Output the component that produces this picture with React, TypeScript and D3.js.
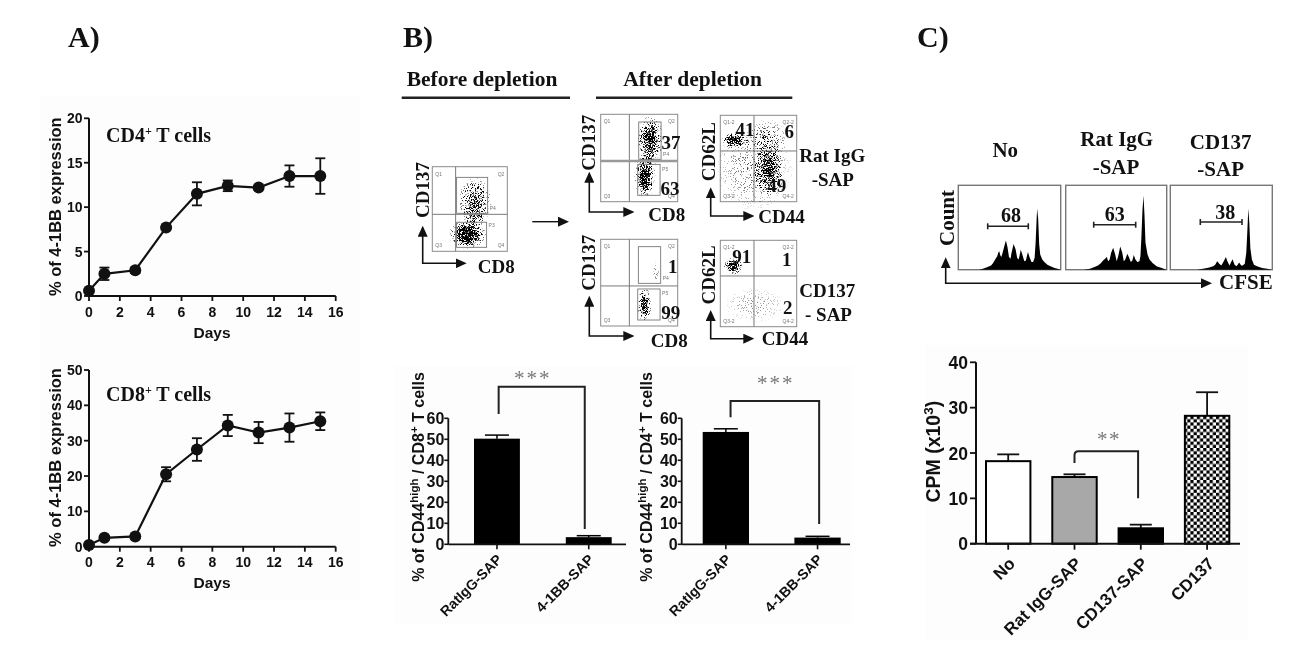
import React from "react";
import * as d3 from "d3";

// ---------- Panel A data ----------
const days = [0, 1, 3, 5, 7, 9, 11, 13, 15];
const cd4Mean = [0.6, 2.5, 2.9, 7.7, 11.5, 12.4, 12.2, 13.5, 13.5];
const cd4Err = [0.2, 0.7, 0.3, 0.2, 1.3, 0.6, 0.2, 1.2, 2.0];
const cd8Mean = [0.5, 2.5, 2.9, 20.5, 27.5, 34.3, 32.3, 33.7, 35.5];
const cd8Err = [0.3, 0.5, 0.5, 2.0, 3.2, 3.0, 3.0, 4.0, 2.5];
const dayTicks = [0, 2, 4, 6, 8, 10, 12, 14, 16];
const cd4Ticks = [0, 5, 10, 15, 20];
const cd8Ticks = [0, 10, 20, 30, 40, 50];

// ---------- Panel B bars ----------
const depletionCats = ["RatIgG-SAP", "4-1BB-SAP"];
const cd8HighMean = [50.3, 3.4];
const cd8HighTop = [52, 4.1];
const cd4HighMean = [53.5, 3.2];
const cd4HighTop = [55, 3.8];
const pctTicks = [0, 10, 20, 30, 40, 50, 60];

// ---------- Panel C bars ----------
const cpmCats = ["No", "Rat IgG-SAP", "CD137-SAP", "CD137"];
const cpmMean = [18.2, 14.7, 3.4, 28.2];
const cpmTop = [19.7, 15.3, 4.2, 33.4];
const cpmTicks = [0, 10, 20, 30, 40];

// ---------- CFSE histograms (percent of frame width, percent of frame height) ----------
const histNoX = [20, 24, 28, 32, 34, 36, 38, 39, 40, 41, 42, 43, 45, 46.5, 48, 49.5, 51, 52, 54, 56, 57.5, 59, 61, 62.5, 64.5, 66, 68, 69.5, 71.5, 73, 74.5, 75.5, 76.5, 77, 78, 79, 80, 82, 84, 87, 90, 94, 97, 100];
const histNoY = [0, 1, 3, 5, 8, 12, 16, 20, 22, 17, 15, 19, 28, 34.5, 27, 15, 13, 20, 30.5, 24, 14, 12, 23.5, 18, 10, 11, 21, 15, 9, 9, 14, 32, 60, 72.5, 60, 30, 18, 12, 9, 6, 4, 2, 1, 0];
const histRatX = [18, 24, 28, 32, 35, 37, 39, 40.7, 42, 43.5, 45, 47, 49, 50.5, 52, 54, 56, 57.5, 59, 61, 62.5, 64.5, 66, 67.4, 69, 71, 73, 74, 75, 76, 77, 78, 79, 81, 83, 86, 90, 95, 100];
const histRatY = [0, 1, 3, 5, 8, 11, 13, 15, 10, 12, 20, 26, 18, 10, 16, 27.5, 20, 10, 12, 19, 15, 9, 11, 17.5, 12, 9, 10, 16, 40, 70, 88, 65, 32, 18, 12, 8, 4, 2, 0];
const histCdX = [26, 32, 36, 39, 42, 44, 46, 48, 50, 52, 54.5, 56, 58, 61, 63, 65, 67.5, 69.5, 71, 73, 74.5, 75.5, 76.5, 77.5, 78.5, 80, 82, 85, 90, 95, 100];
const histCdY = [0, 1, 2, 3, 4, 6, 10, 7, 5, 9, 15, 10, 5, 12.5, 6, 4, 8.5, 5, 5, 7, 20, 45, 72.5, 55, 25, 12, 6, 4, 2, 1, 0];
const histLabels = ["68", "63", "38"];

// ---------- Flow-cytometry plots (all in 0..1 plot units) ----------
type Cloud = { x: number; y: number; rx: number; ry: number; d: number };
type Gate = { x0: number; x1: number; y0: number; y1: number };
const beforeClouds: Cloud[] = [
  { x: 0.57, y: 0.59, rx: 0.22, ry: 0.28, d: 0.85 },
  { x: 0.55, y: 0.4, rx: 0.16, ry: 0.14, d: 0.55 },
  { x: 0.47, y: 0.2, rx: 0.25, ry: 0.17, d: 1 },
  { x: 0.458, y: 0.2, rx: 0.17, ry: 0.13, d: 1 },
  { x: 0.458, y: 0.2, rx: 0.14, ry: 0.11, d: 1 },
  { x: 0.458, y: 0.2, rx: 0.11, ry: 0.09, d: 1 },
  { x: 0.458, y: 0.2, rx: 0.09, ry: 0.08, d: 1 },
];
const afterTopLeftClouds: Cloud[] = [
  { x: 0.64, y: 0.71, rx: 0.17, ry: 0.27, d: 0.95 },
  { x: 0.64, y: 0.72, rx: 0.09, ry: 0.16, d: 0.9 },
  { x: 0.62, y: 0.47, rx: 0.1, ry: 0.14, d: 0.65 },
  { x: 0.576, y: 0.286, rx: 0.14, ry: 0.24, d: 0.95 },
  { x: 0.576, y: 0.26, rx: 0.09, ry: 0.16, d: 0.95 },
  { x: 0.576, y: 0.25, rx: 0.06, ry: 0.12, d: 0.9 },
];
const afterTopRightClouds: Cloud[] = [
  { x: 0.45, y: 0.4, rx: 0.5, ry: 0.5, d: 0.3 },
  { x: 0.62, y: 0.72, rx: 0.26, ry: 0.24, d: 0.38 },
  { x: 0.63, y: 0.37, rx: 0.2, ry: 0.3, d: 0.9 },
  { x: 0.63, y: 0.37, rx: 0.1, ry: 0.18, d: 0.8 },
  { x: 0.17, y: 0.71, rx: 0.15, ry: 0.09, d: 1 },
  { x: 0.17, y: 0.71, rx: 0.12, ry: 0.07, d: 1 },
  { x: 0.17, y: 0.71, rx: 0.09, ry: 0.05, d: 1 },
  { x: 0.3, y: 0.7, rx: 0.14, ry: 0.06, d: 0.5 },
];
const afterBottomLeftClouds: Cloud[] = [
  { x: 0.57, y: 0.24, rx: 0.09, ry: 0.2, d: 0.95 },
  { x: 0.57, y: 0.24, rx: 0.05, ry: 0.13, d: 0.8 },
  { x: 0.72, y: 0.62, rx: 0.04, ry: 0.12, d: 0.3 },
];
const afterBottomRightClouds: Cloud[] = [
  { x: 0.17, y: 0.7, rx: 0.13, ry: 0.1, d: 1 },
  { x: 0.17, y: 0.7, rx: 0.08, ry: 0.06, d: 0.9 },
  { x: 0.45, y: 0.25, rx: 0.4, ry: 0.2, d: 0.2 },
];
const beforeGates: Gate[] = [
  { x0: 0.324, x1: 0.738, y0: 0.449, y1: 0.874 },
  { x0: 0.324, x1: 0.724, y0: 0.047, y1: 0.343 },
];
const afterTopGates: Gate[] = [
  { x0: 0.494, x1: 0.784, y0: 0.485, y1: 0.912 },
  { x0: 0.481, x1: 0.771, y0: 0.073, y1: 0.427 },
];
const afterBottomGates: Gate[] = [
  { x0: 0.489, x1: 0.779, y0: 0.492, y1: 0.915 },
  { x0: 0.481, x1: 0.771, y0: 0.069, y1: 0.427 },
];

const sans = "'Liberation Sans', Arial, sans-serif";
const serif = "'Liberation Serif', 'Times New Roman', serif";
const INK = "#111";

function LinePanel({ y0, y1, yMax, yTicks, mean, err, title, titleY, xBase, labelBase, yLabelCy }: any) {
  const x = d3.scaleLinear().domain([0, 16]).range([89, 335.7]);
  const y = d3.scaleLinear().domain([0, yMax]).range([y0, y1]);
  const line = d3.line<number>().x((_, i) => x(days[i])).y((d) => y(d));
  return (
    <g>
      <path d={line(mean) as string} fill="none" stroke={INK} strokeWidth={2.2} />
      {days.map((d, i) => (
        <g key={d} stroke={INK} strokeWidth={1.8}>
          <line x1={x(d)} x2={x(d)} y1={y(mean[i] - err[i])} y2={y(mean[i] + err[i])} />
          <line x1={x(d) - 5} x2={x(d) + 5} y1={y(mean[i] - err[i])} y2={y(mean[i] - err[i])} />
          <line x1={x(d) - 5} x2={x(d) + 5} y1={y(mean[i] + err[i])} y2={y(mean[i] + err[i])} />
          <circle cx={x(d)} cy={y(mean[i])} r={6} fill={INK} stroke="none" />
        </g>
      ))}
      <line x1={x(0)} x2={x(16)} y1={y0} y2={y0} stroke={INK} strokeWidth={2} />
      <line x1={x(0)} x2={x(0)} y1={y0 + 1} y2={y1} stroke={INK} strokeWidth={2} />
      {dayTicks.map((t) => (
        <g key={t}>
          <line x1={x(t)} x2={x(t)} y1={y0} y2={y0 + 5} stroke={INK} strokeWidth={1.8} />
          <text x={x(t)} y={xBase} textAnchor="middle" fontFamily={sans} fontWeight={700} fontSize={14} fill={INK}>{t}</text>
        </g>
      ))}
      {yTicks.map((t: number) => (
        <g key={t}>
          <line x1={x(0) - 5} x2={x(0)} y1={y(t)} y2={y(t)} stroke={INK} strokeWidth={1.8} />
          <text x={82.5} y={y(t) + 5} textAnchor="end" fontFamily={sans} fontWeight={700} fontSize={14} fill={INK}>{t}</text>
        </g>
      ))}
      <text x={212} y={labelBase} textAnchor="middle" fontFamily={sans} fontWeight={700} fontSize={15.5} fill={INK}>Days</text>
      <text transform={`translate(61,${yLabelCy}) rotate(-90)`} textAnchor="middle" fontFamily={sans} fontWeight={700} fontSize={16.5} fill={INK}>% of 4-1BB expression</text>
      <text x={106} y={titleY} fontFamily={serif} fontWeight={700} fontSize={20} fill={INK}>
        {title}
        <tspan dy={-7} fontSize={12}>+</tspan>
        <tspan dy={7}> T cells</tspan>
      </text>
    </g>
  );
}

function BarPanel({ axisX, axisEnd, bandRange, inner, means, tops, label, labelX, sup, bracket, stars, starsY }: any) {
  const y = d3.scaleLinear().domain([0, 60]).range([544.3, 418.3]);
  const band = d3.scaleBand<string>().domain(depletionCats).range(bandRange).paddingInner(inner).paddingOuter(0);
  const cx = (c: string) => (band(c) as number) + band.bandwidth() / 2;
  const bx0 = cx(depletionCats[0]) + bracket.dx0;
  const bx1 = cx(depletionCats[1]) + bracket.dx1;
  return (
    <g>
      {depletionCats.map((c, i) => (
        <g key={c}>
          <rect x={band(c)} y={y(means[i])} width={band.bandwidth()} height={y(0) - y(means[i])} fill="#000" />
          <line x1={cx(c)} x2={cx(c)} y1={y(means[i])} y2={y(tops[i])} stroke="#000" strokeWidth={1.5} />
          <line x1={cx(c) - 12} x2={cx(c) + 12} y1={y(tops[i])} y2={y(tops[i])} stroke="#000" strokeWidth={1.5} />
          <line x1={cx(c)} x2={cx(c)} y1={y(0)} y2={y(0) + 5} stroke={INK} strokeWidth={1.6} />
          <text transform={`translate(${cx(c) + 6},${y(0) + 16}) rotate(-45)`} textAnchor="end" fontFamily={sans} fontWeight={700} fontSize={14.2} fill={INK}>{c}</text>
        </g>
      ))}
      <line x1={axisX} x2={axisEnd} y1={y(0)} y2={y(0)} stroke={INK} strokeWidth={1.8} />
      <line x1={axisX} x2={axisX} y1={y(0)} y2={y(60)} stroke={INK} strokeWidth={1.8} />
      {pctTicks.map((t) => (
        <g key={t}>
          <line x1={axisX - 4} x2={axisX} y1={y(t)} y2={y(t)} stroke={INK} strokeWidth={1.6} />
          <text x={axisX - 4} y={y(t) + 6} textAnchor="end" fontFamily={sans} fontWeight={700} fontSize={16} fill={INK}>{t}</text>
        </g>
      ))}
      <path d={`M${bx0},${y(bracket.left)}V${y(bracket.top)}H${bx1}V${y(bracket.right)}`} fill="none" stroke="#222" strokeWidth={2} />
      <text x={(bx0 + bx1) / 2 + stars} y={starsY} textAnchor="middle" fontFamily={serif} fontWeight={400} fontSize={21} letterSpacing={2} fill="#777">***</text>
      <text transform={`translate(${labelX},477) rotate(-90)`} textAnchor="middle" fontFamily={sans} fontWeight={700} fontSize={16} fill={INK}>
        % of CD44<tspan dy={-6} fontSize={11.5}>high</tspan><tspan dy={6}> / {label}</tspan><tspan dy={-6} fontSize={11.5}>{sup}</tspan><tspan dy={6}> T cells</tspan>
      </text>
    </g>
  );
}

function CpmPanel() {
  const y = d3.scaleLinear().domain([0, 40]).range([543.7, 362.3]);
  const band = d3.scaleBand<string>().domain(cpmCats).range([986, 1229.3]).paddingInner(0.33).paddingOuter(0);
  const cx = (c: string) => (band(c) as number) + band.bandwidth() / 2;
  const fills = ["#fff", "#a8a8a8", "#000", "url(#checker)"];
  const lx0 = cx(cpmCats[1]);
  const lx1 = cx(cpmCats[2]) - 2.7;
  const brTop = y(20.4);
  return (
    <g>
      {cpmCats.map((c, i) => (
        <g key={c}>
          <line x1={cx(c)} x2={cx(c)} y1={y(cpmMean[i])} y2={y(cpmTop[i])} stroke={INK} strokeWidth={1.8} />
          <line x1={cx(c) - 11} x2={cx(c) + 11} y1={y(cpmTop[i])} y2={y(cpmTop[i])} stroke={INK} strokeWidth={1.8} />
          <rect x={band(c)} y={y(cpmMean[i])} width={band.bandwidth()} height={y(0) - y(cpmMean[i])} fill={fills[i]} stroke="#000" strokeWidth={2} />
          <line x1={cx(c)} x2={cx(c)} y1={y(0)} y2={y(0) + 6} stroke={INK} strokeWidth={1.8} />
          <text transform={`translate(${cx(c) + 8},${y(0) + 21}) rotate(-45)`} textAnchor="end" fontFamily={sans} fontWeight={700} fontSize={17} fill={INK}>{c}</text>
        </g>
      ))}
      <line x1={970} x2={1240} y1={y(0)} y2={y(0)} stroke={INK} strokeWidth={2} />
      <line x1={976} x2={976} y1={y(0)} y2={y(40)} stroke={INK} strokeWidth={2} />
      {cpmTicks.map((t) => (
        <g key={t}>
          <line x1={970} x2={976} y1={y(t)} y2={y(t)} stroke={INK} strokeWidth={1.8} />
          <text x={968} y={y(t) + 6.5} textAnchor="end" fontFamily={sans} fontWeight={700} fontSize={17.5} fill={INK}>{t}</text>
        </g>
      ))}
      <path d={`M${lx0},${y(17.8)}V${brTop + 4}Q${lx0},${brTop} ${lx0 + 4},${brTop}H${lx1}V${y(10)}`} fill="none" stroke="#222" strokeWidth={2} />
      <text x={1109} y={446} textAnchor="middle" fontFamily={serif} fontSize={21} letterSpacing={1.5} fill="#777">**</text>
      <text transform="translate(940,451.7) rotate(-90)" textAnchor="middle" fontFamily={sans} fontWeight={700} fontSize={19.5} fill={INK}>
        CPM (x10<tspan dy={-7} fontSize={13.5}>3</tspan><tspan dy={7}>)</tspan>
      </text>
    </g>
  );
}

function FlowPlot({ frame, vx, hy, clouds, gates, thick, qNames, pNames }: any) {
  const [l, t, r, b] = frame;
  const sx = d3.scaleLinear().domain([0, 1]).range([l, r]);
  const sy = d3.scaleLinear().domain([0, 1]).range([b, t]);
  const small = { fontFamily: sans, fontSize: 5, fill: "#777" } as const;
  return (
    <g>
      <rect x={l} y={t} width={r - l} height={b - t} fill="#fff" stroke="#8a8a8a" strokeWidth={1} />
      <g filter="url(#speckle)">
        {clouds.map((c: Cloud, i: number) => (
          <ellipse key={i} cx={sx(c.x)} cy={sy(c.y)} rx={(r - l) * c.rx} ry={(b - t) * c.ry} fill="url(#cloud)" opacity={c.d} />
        ))}
      </g>
      <line x1={sx(vx)} x2={sx(vx)} y1={t} y2={b} stroke="#7a7a7a" strokeWidth={1} />
      <line x1={l} x2={r} y1={sy(hy)} y2={sy(hy)} stroke={thick ? "#999" : "#7a7a7a"} strokeWidth={thick ? 2.4 : 1} />
      {gates.map((g: Gate, i: number) => (
        <rect key={i} x={sx(g.x0)} y={sy(g.y1)} width={sx(g.x1) - sx(g.x0)} height={sy(g.y0) - sy(g.y1)} fill="none" stroke="#777" strokeWidth={0.9} />
      ))}
      <text x={l + 3} y={t + 9} {...small}>{qNames[0]}</text>
      <text x={r - 3} y={t + 9} textAnchor="end" {...small}>{qNames[1]}</text>
      <text x={l + 3} y={b - 4} {...small}>{qNames[2]}</text>
      <text x={r - 3} y={b - 4} textAnchor="end" {...small}>{qNames[3]}</text>
      {pNames && gates.map((g: Gate, i: number) => (
        <text key={i} x={sx(g.x1) + 2} y={sy(g.y0 + (g.y1 - g.y0) * (i === 0 ? 0.1 : 0.8))} {...small}>{pNames[i]}</text>
      ))}
    </g>
  );
}

function Axes2({ cx, cy, top, right }: any) {
  return (
    <path d={`M${cx},${top + 9}V${cy}H${right - 9}`} fill="none" stroke={INK} strokeWidth={1.6} markerStart="url(#arrowUp)" markerEnd="url(#arrowRight)" />
  );
}

function Histogram({ frame, xs, ys, gate, gateY, num, numX, numY }: any) {
  const [l, t, r, b] = frame;
  const sx = d3.scaleLinear().domain([0, 100]).range([l, r]);
  const sy = d3.scaleLinear().domain([0, 100]).range([b, t]);
  const area = d3.area<number>().x((_, i) => sx(xs[i])).y0(b).y1((d) => sy(d));
  return (
    <g>
      <rect x={l} y={t} width={r - l} height={b - t} fill="#fff" stroke="#777" strokeWidth={1.4} />
      <path d={area(ys) as string} fill="#000" />
      <line x1={gate[0]} x2={gate[1]} y1={gateY} y2={gateY} stroke="#222" strokeWidth={1.6} />
      <line x1={gate[0]} x2={gate[0]} y1={gateY - 3} y2={gateY + 3} stroke="#222" strokeWidth={1.6} />
      <line x1={gate[1]} x2={gate[1]} y1={gateY - 3} y2={gateY + 3} stroke="#222" strokeWidth={1.6} />
      <text x={numX} y={numY} textAnchor="middle" fontFamily={serif} fontWeight={700} fontSize={20} fill={INK}>{num}</text>
    </g>
  );
}

const S = (p: any) => <text fontFamily={serif} fontWeight={700} fill={INK} {...p} />;

export default function App() {
  const qA = ["Q1", "Q2", "Q3", "Q4"];
  const qB = ["Q1-2", "Q2-2", "Q3-2", "Q4-2"];
  return (
    <svg width={1303} height={650} viewBox="0 0 1303 650" style={{ position: "absolute", left: 0, top: 0, display: "block" }}>
      <defs>
        <marker id="arrowRight" markerUnits="userSpaceOnUse" markerWidth={11} markerHeight={10} refX={1} refY={5} orient="0">
          <path d="M0,0L11,5L0,10z" fill={INK} />
        </marker>
        <marker id="arrowUp" markerUnits="userSpaceOnUse" markerWidth={10} markerHeight={11} refX={5} refY={10} orient="0">
          <path d="M0,11L5,0L10,11z" fill={INK} />
        </marker>
        <pattern id="checker" width={6.4} height={6.4} patternUnits="userSpaceOnUse">
          <rect width={6.4} height={6.4} fill="#fff" />
          <rect width={3.2} height={3.2} fill="#000" />
          <rect x={3.2} y={3.2} width={3.2} height={3.2} fill="#000" />
        </pattern>
        <radialGradient id="cloud">
          <stop offset="0%" stopColor="#000" stopOpacity={0.9} />
          <stop offset="60%" stopColor="#000" stopOpacity={0.48} />
          <stop offset="100%" stopColor="#000" stopOpacity={0.08} />
        </radialGradient>
        <filter id="speckle" x="-10%" y="-10%" width="120%" height="120%" colorInterpolationFilters="sRGB">
          <feTurbulence type="fractalNoise" baseFrequency={1.3} numOctaves={2} seed={7} result="noise" />
          <feColorMatrix in="noise" type="matrix" values="0 0 0 0 0  0 0 0 0 0  0 0 0 0 0  3 0 0 0 -1" result="na" />
          <feComposite in="SourceGraphic" in2="na" operator="arithmetic" k1={0} k2={1} k3={1} k4={-1} result="sum" />
          <feComponentTransfer in="sum">
            <feFuncA type="linear" slope={3} intercept={0} />
          </feComponentTransfer>
        </filter>
      </defs>
      <rect width={1303} height={650} fill="#fff" />
      <g style={{ filter: "blur(0.35px)" }}>
        <rect x={40} y={96} width={320} height={504} fill="#fdfdfd" />
        <rect x={395} y={366} width={457} height={258} fill="#fdfdfd" />
        <rect x={925} y={345} width={323} height={295} fill="#fdfdfd" />

        <S x={68} y={47} fontSize={30}>A)</S>
        <S x={403} y={47} fontSize={30}>B)</S>
        <S x={917} y={47} fontSize={30}>C)</S>

        <LinePanel y0={296} y1={118.3} yMax={20} yTicks={cd4Ticks} mean={cd4Mean} err={cd4Err} title="CD4" titleY={141.7} xBase={317} labelBase={338} yLabelCy={206.7} />
        <LinePanel y0={546.7} y1={370} yMax={50} yTicks={cd8Ticks} mean={cd8Mean} err={cd8Err} title="CD8" titleY={401} xBase={567} labelBase={588} yLabelCy={457.5} />

        <S x={406.7} y={86} fontSize={21.5}>Before depletion</S>
        <S x={623.3} y={86} fontSize={21.5}>After depletion</S>
        <line x1={401.7} x2={570} y1={97.7} y2={97.7} stroke="#222" strokeWidth={2.6} />
        <line x1={596} x2={792.3} y1={97.7} y2={97.7} stroke="#222" strokeWidth={2.6} />

        <FlowPlot frame={[432.3, 166.7, 507.3, 251.3]} vx={0.311} hy={0.437} clouds={beforeClouds} gates={beforeGates} qNames={qA} pNames={["P4", "P3"]} />
        <FlowPlot frame={[600.7, 114.3, 677.7, 201.7]} vx={0.372} hy={0.466} thick clouds={afterTopLeftClouds} gates={afterTopGates} qNames={qA} pNames={["P4", "P5"]} />
        <FlowPlot frame={[720.3, 115.3, 796.7, 201.7]} vx={0.441} hy={0.587} clouds={afterTopRightClouds} gates={[]} qNames={qB} />
        <FlowPlot frame={[600.7, 239.3, 677.7, 326]} vx={0.372} hy={0.462} clouds={afterBottomLeftClouds} gates={afterBottomGates} qNames={qA} pNames={["P4", "P5"]} />
        <FlowPlot frame={[720.3, 240.3, 796.7, 326.7]} vx={0.441} hy={0.587} clouds={afterBottomRightClouds} gates={[]} qNames={qB} />

        <Axes2 cx={422.7} cy={263.3} top={226.7} right={465.7} />
        <Axes2 cx={589.3} cy={212} top={172.7} right={633.3} />
        <Axes2 cx={710.7} cy={216} top={188.3} right={753.3} />
        <Axes2 cx={589.3} cy={336} top={296.7} right={633.3} />
        <Axes2 cx={710.7} cy={338.7} top={311} right={753.3} />
        <path d="M532.3,221.7H559" fill="none" stroke={INK} strokeWidth={1.4} markerEnd="url(#arrowRight)" />

        <S transform="translate(429,190) rotate(-90)" textAnchor="middle" fontSize={19}>CD137</S>
        <S transform="translate(595,142.7) rotate(-90)" textAnchor="middle" fontSize={19}>CD137</S>
        <S transform="translate(595,262.7) rotate(-90)" textAnchor="middle" fontSize={19}>CD137</S>
        <S transform="translate(715,151.7) rotate(-90)" textAnchor="middle" fontSize={19}>CD62L</S>
        <S transform="translate(715,275) rotate(-90)" textAnchor="middle" fontSize={19}>CD62L</S>
        <S x={477.7} y={272.7} fontSize={19}>CD8</S>
        <S x={648.3} y={220.7} fontSize={19}>CD8</S>
        <S x={650.7} y={346.7} fontSize={19}>CD8</S>
        <S x={758.3} y={222.7} fontSize={19}>CD44</S>
        <S x={761.7} y={345} fontSize={19}>CD44</S>
        <S x={799.3} y={161.7} fontSize={19}>Rat IgG</S>
        <S x={811.7} y={186} fontSize={19}>-SAP</S>
        <S x={799.3} y={296.7} fontSize={19}>CD137</S>
        <S x={805} y={320.7} fontSize={19}>- SAP</S>

        <S x={671} y={149} fontSize={19} textAnchor="middle">37</S>
        <S x={670} y={195} fontSize={19} textAnchor="middle">63</S>
        <S x={745} y={136} fontSize={19} textAnchor="middle">41</S>
        <S x={789.3} y={138} fontSize={19} textAnchor="middle">6</S>
        <S x={776.7} y={191.7} fontSize={19} textAnchor="middle">49</S>
        <S x={672.7} y={272.7} fontSize={19} textAnchor="middle">1</S>
        <S x={670.7} y={319.3} fontSize={19} textAnchor="middle">99</S>
        <S x={741.7} y={263.3} fontSize={19} textAnchor="middle">91</S>
        <S x={786.7} y={266} fontSize={19} textAnchor="middle">1</S>
        <S x={787.7} y={314.3} fontSize={19} textAnchor="middle">2</S>

        <BarPanel axisX={448.3} axisEnd={626} bandRange={[474, 611.7]} inner={0.5} means={cd8HighMean} tops={cd8HighTop} label="CD8" sup="+" labelX={424} bracket={{ dx0: 1.7, dx1: -4, left: 62, top: 75, right: 7.3 }} stars={-9} starsY={385} />
        <BarPanel axisX={681.7} axisEnd={850} bandRange={[702.7, 840.7]} inner={0.495} means={cd4HighMean} tops={cd4HighTop} label="CD4" sup="+" labelX={652} bracket={{ dx0: 4.7, dx1: 1.6, left: 60.5, top: 68.2, right: 9.7 }} stars={1} starsY={390} />

        <S x={1005.3} y={156.7} fontSize={21} textAnchor="middle">No</S>
        <S x={1116.7} y={145.7} fontSize={21} textAnchor="middle">Rat IgG</S>
        <S x={1116} y={174} fontSize={21} textAnchor="middle">-SAP</S>
        <S x={1220.7} y={149.3} fontSize={21} textAnchor="middle">CD137</S>
        <S x={1220.7} y={176} fontSize={21} textAnchor="middle">-SAP</S>

        <Histogram frame={[958.3, 185.3, 1060.7, 269.7]} xs={histNoX} ys={histNoY} gate={[987.7, 1028.3]} gateY={226.3} num={histLabels[0]} numX={1011} numY={222.3} />
        <Histogram frame={[1065.7, 185.3, 1166.7, 269.7]} xs={histRatX} ys={histRatY} gate={[1093.7, 1135.7]} gateY={224.7} num={histLabels[1]} numX={1114.7} numY={221.3} />
        <Histogram frame={[1170.3, 185.3, 1272.3, 269.7]} xs={histCdX} ys={histCdY} gate={[1200.3, 1242]} gateY={222} num={histLabels[2]} numX={1225.3} numY={219} />

        <Axes2 cx={945.7} cy={283.3} top={258.3} right={1211} />
        <S transform="translate(954,218) rotate(-90)" textAnchor="middle" fontSize={21}>Count</S>
        <S x={1219} y={289.3} fontSize={21}>CFSE</S>

        <CpmPanel />
      </g>
    </svg>
  );
}
